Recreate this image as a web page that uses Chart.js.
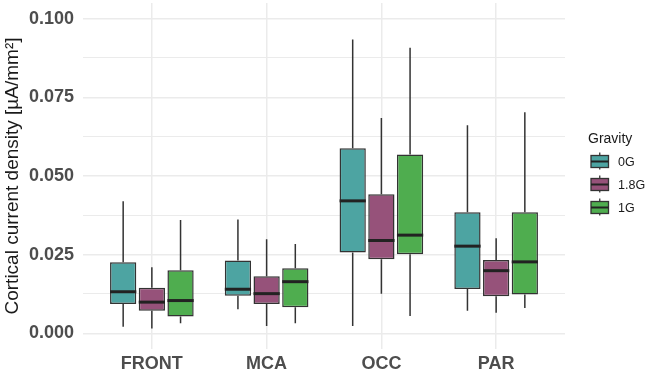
<!DOCTYPE html>
<html>
<head>
<meta charset="utf-8">
<script src="https://cdn.jsdelivr.net/npm/chart.js@4.4.1/dist/chart.umd.min.js"></script>
<style>
  html, body { margin: 0; padding: 0; background: #fff; }
  #wrap { width: 645px; height: 372px; position: relative; }
</style>
</head>
<body>
<div id="wrap"><canvas id="boxChart"></canvas></div>
<script>
// --- DATA ---
const regions = ['FRONT', 'MCA', 'OCC', 'PAR'];
const gravityLevels = ['0G', '1.8G', '1G'];

// each row: [lower whisker, Q1, median, Q3, upper whisker] per region
const stats0G = [
  [0.0021, 0.0093, 0.0132, 0.0226, 0.0420],
  [0.0076, 0.0119, 0.0140, 0.0231, 0.0362],
  [0.0023, 0.0257, 0.0421, 0.0588, 0.0934],
  [0.0072, 0.0141, 0.0277, 0.0385, 0.0661]
];
const stats18G = [
  [0.0015, 0.0072, 0.0099, 0.0145, 0.0210],
  [0.0023, 0.0093, 0.0126, 0.0181, 0.0299],
  [0.0126, 0.0235, 0.0295, 0.0442, 0.0684],
  [0.0065, 0.0118, 0.0199, 0.0233, 0.0302]
];
const stats1G = [
  [0.0032, 0.0053, 0.0104, 0.0200, 0.0360],
  [0.0032, 0.0083, 0.0164, 0.0207, 0.0284],
  [0.0055, 0.0251, 0.0312, 0.0568, 0.0908],
  [0.0080, 0.0123, 0.0227, 0.0385, 0.0703]
];
const yTicks = [0, 0.0125, 0.025, 0.0375, 0.05, 0.0625, 0.075, 0.0875, 0.1];

const allStats = [stats0G, stats18G, stats1G];
const fills = ['#4da4a2', '#96527a', '#4fad4f'];
const outline = '#333333';

Chart.defaults.font.family = "'Liberation Sans', Arial, sans-serif";

// whiskers behind the boxes, medians on top
const boxExtras = {
  id: 'boxExtras',
  beforeDatasetsDraw(chart) {
    const ctx = chart.ctx;
    const y = chart.scales.y;
    ctx.save();
    ctx.strokeStyle = outline;
    ctx.lineWidth = 1.5;
    chart.data.datasets.forEach((ds, i) => {
      chart.getDatasetMeta(i).data.forEach((bar, j) => {
        const s = ds.data[j].stats;
        ctx.beginPath();
        ctx.moveTo(bar.x, y.getPixelForValue(s[0]));
        ctx.lineTo(bar.x, y.getPixelForValue(s[1]));
        ctx.moveTo(bar.x, y.getPixelForValue(s[3]));
        ctx.lineTo(bar.x, y.getPixelForValue(s[4]));
        ctx.stroke();
      });
    });
    ctx.restore();
  },
  afterDatasetsDraw(chart) {
    const ctx = chart.ctx;
    const y = chart.scales.y;
    ctx.save();
    ctx.strokeStyle = '#222222';
    ctx.lineWidth = 3;
    chart.data.datasets.forEach((ds, i) => {
      chart.getDatasetMeta(i).data.forEach((bar, j) => {
        const py = y.getPixelForValue(ds.data[j].stats[2]);
        ctx.beginPath();
        ctx.moveTo(bar.x - bar.width / 2, py);
        ctx.lineTo(bar.x + bar.width / 2, py);
        ctx.stroke();
      });
    });
    ctx.restore();
  }
};

// ggplot-style legend with boxplot keys
const gravityLegend = {
  id: 'gravityLegend',
  afterDraw(chart) {
    const ctx = chart.ctx;
    ctx.save();
    ctx.fillStyle = '#1a1a1a';
    ctx.textBaseline = 'middle';
    ctx.textAlign = 'left';
    ctx.font = "14px 'Liberation Sans', Arial, sans-serif";
    ctx.fillText('Gravity', 588, 139);
    gravityLevels.forEach((g, i) => {
      const cy = 161.5 + i * 23;
      const x0 = 591, w = 17.5;
      ctx.strokeStyle = outline;
      ctx.lineWidth = 1.3;
      ctx.beginPath();
      ctx.moveTo(x0 + w / 2, cy - 9);
      ctx.lineTo(x0 + w / 2, cy + 8);
      ctx.stroke();
      ctx.fillStyle = fills[i];
      ctx.fillRect(x0, cy - 6, w, 12);
      ctx.strokeRect(x0, cy - 6, w, 12);
      ctx.lineWidth = 2;
      ctx.strokeStyle = '#222222';
      ctx.beginPath();
      ctx.moveTo(x0, cy);
      ctx.lineTo(x0 + w, cy);
      ctx.stroke();
      ctx.fillStyle = '#1a1a1a';
      ctx.font = "12.5px 'Liberation Sans', Arial, sans-serif";
      ctx.fillText(g, 618, cy + 1.5);
    });
    ctx.restore();
  }
};

const ctx = document.getElementById('boxChart').getContext('2d');

const boxChart = new Chart(ctx, {
  type: 'bar',
  data: {
    datasets: gravityLevels.map((g, i) => ({
      label: g,
      data: allStats[i].map((s, j) => ({ x: j + 1, y: [s[1], s[3]], stats: s })),
      backgroundColor: fills[i],
      borderColor: outline,
      borderWidth: 1.5,
      borderSkipped: false,
      categoryPercentage: 0.75,
      barPercentage: 0.915
    }))
  },
  options: {
    responsive: true,
    maintainAspectRatio: false,
    animation: false,
    layout: { padding: { top: 3, right: 80, left: 0, bottom: 0 } },
    plugins: {
      legend: { display: false },
      tooltip: { enabled: false }
    },
    scales: {
      x: {
        type: 'linear',
        min: 0.4,
        max: 4.6,
        offset: false,
        afterBuildTicks: (scale) => { scale.ticks = regions.map((r, i) => ({ value: i + 1 })); },
        afterFit: (scale) => {
          scale.height = 23;
          scale.paddingLeft = 0;
          scale.paddingRight = 0;
        },
        ticks: {
          callback: (v, idx) => regions[idx],
          color: '#4d4d4d',
          font: { size: 18, weight: 'bold' },
          padding: 4,
          maxRotation: 0,
          autoSkip: false
        },
        grid: { color: '#ebebeb', lineWidth: 1.5, drawTicks: false, offset: false },
        border: { display: false }
      },
      y: {
        type: 'linear',
        min: -0.005,
        max: 0.105,
        stacked: false,
        afterBuildTicks: (scale) => { scale.ticks = yTicks.map(v => ({ value: v })); },
        afterFit: (scale) => {
          scale.width = 83;
          scale.paddingTop = 0;
          scale.paddingBottom = 0;
        },
        ticks: {
          callback: (v, idx) => (idx % 2 === 0 ? yTicks[idx].toFixed(3) : ''),
          color: '#4d4d4d',
          font: { size: 18, weight: 'bold' },
          padding: 9
        },
        grid: {
          color: '#ebebeb',
          lineWidth: (c) => (c.index % 2 === 0 ? 1.5 : 1.1),
          drawTicks: false
        },
        border: { display: false },
        title: {
          display: true,
          text: 'Cortical current density [µA/mm²]',
          color: '#1a1a1a',
          font: { size: 19 },
          padding: { top: 1, bottom: 0 }
        }
      }
    }
  },
  plugins: [boxExtras, gravityLegend]
});
</script>
</body>
</html>
